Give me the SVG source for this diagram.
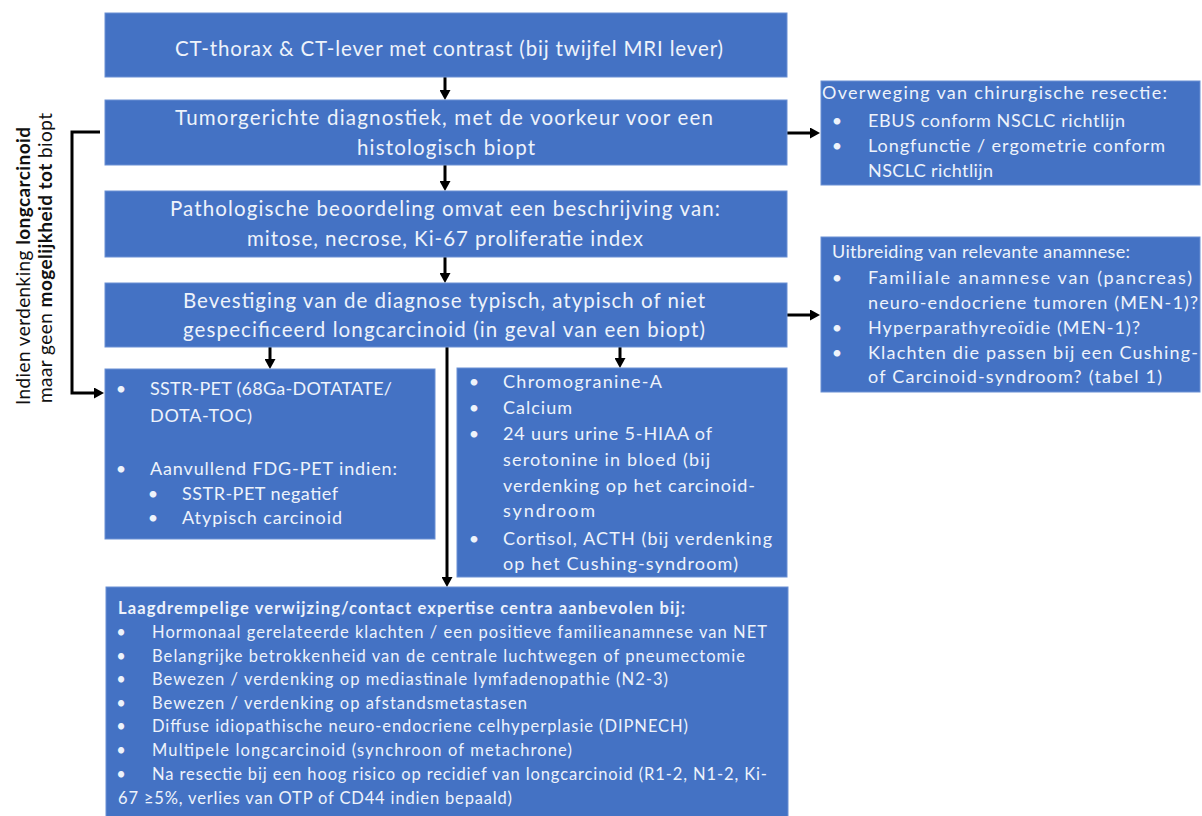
<svg xmlns="http://www.w3.org/2000/svg" width="1202" height="816" viewBox="0 0 1202 816">
<style>
.box{fill:#4472c4;stroke:#6a90d4;stroke-width:1}
.t{font-family:Lato,"Liberation Sans",sans-serif;fill:#eef3fb}
.m{font-size:20.5px}
.s{font-size:18px}
.b{font-size:16.5px}
.bu{text-anchor:middle}
.hd{font-weight:bold}
.side{font-family:Lato,"Liberation Sans",sans-serif;font-size:19px;fill:#111}
.conn{stroke:#000;stroke-width:3;fill:none}
</style>
<defs>
<marker id="ah" markerUnits="userSpaceOnUse" markerWidth="11" markerHeight="11" refX="2" refY="5.5" orient="auto">
<path d="M0,0 L10,5.5 L0,11 z" fill="#000"/>
</marker>
</defs>

<g id="connectors">
<line class="conn" x1="445" y1="77" x2="445" y2="92" marker-end="url(#ah)"/>
<line class="conn" x1="445" y1="165" x2="445" y2="183" marker-end="url(#ah)"/>
<line class="conn" x1="445" y1="257" x2="445" y2="275" marker-end="url(#ah)"/>
<line class="conn" x1="787" y1="133" x2="812" y2="133" marker-end="url(#ah)"/>
<line class="conn" x1="787" y1="315" x2="812" y2="315" marker-end="url(#ah)"/>
<line class="conn" x1="270" y1="347" x2="270" y2="361" marker-end="url(#ah)"/>
<line class="conn" x1="620" y1="347" x2="620" y2="360" marker-end="url(#ah)"/>
<line class="conn" x1="447" y1="347" x2="447" y2="579" marker-end="url(#ah)"/>
<path class="conn" d="M100,132 H72 V393 H96" marker-end="url(#ah)"/>
</g>

<g id="side-label">
<text class="side" transform="rotate(-90)" x="-405" y="30" textLength="278" lengthAdjust="spacing">Indien verdenking <tspan font-weight="bold">longcarcinoid</tspan></text>
<text class="side" transform="rotate(-90)" x="-403" y="52" textLength="290" lengthAdjust="spacing">maar geen <tspan font-weight="bold">mogelijkheid tot</tspan> biopt</text>
</g>

<g id="n-ct">
<rect class="box" x="105" y="13" width="682" height="64"/>
<text class="t m" x="175" y="56" textLength="548" lengthAdjust="spacing">CT-thorax &amp; CT-lever met contrast (bij twijfel MRI lever)</text>
</g>

<g id="n-tumor">
<rect class="box" x="105" y="100" width="682" height="65"/>
<text class="t m" x="175" y="125" textLength="538" lengthAdjust="spacing">Tumorgerichte diagnostiek, met de voorkeur voor een</text>
<text class="t m" x="357" y="155" textLength="178" lengthAdjust="spacing">histologisch biopt</text>
</g>

<g id="n-patho">
<rect class="box" x="105" y="191" width="682" height="66"/>
<text class="t m" x="170" y="216" textLength="550" lengthAdjust="spacing">Pathologische beoordeling omvat een beschrijving van:</text>
<text class="t m" x="247" y="246" textLength="396" lengthAdjust="spacing">mitose, necrose, Ki-67 proliferatie index</text>
</g>

<g id="n-bevestiging">
<rect class="box" x="105" y="283" width="682" height="64"/>
<text class="t m" x="183" y="308" textLength="522" lengthAdjust="spacing">Bevestiging van de diagnose typisch, atypisch of niet</text>
<text class="t m" x="183" y="337" textLength="522" lengthAdjust="spacing">gespecificeerd longcarcinoid (in geval van een biopt)</text>
</g>

<g id="n-resectie">
<rect class="box" x="821" y="81" width="379" height="104"/>
<text class="t s" x="822" y="99" textLength="345" lengthAdjust="spacing">Overweging van chirurgische resectie:</text>
<text class="t s bu" x="837" y="127">•</text>
<text class="t s" x="868" y="127" textLength="257" lengthAdjust="spacing">EBUS conform NSCLC richtlijn</text>
<text class="t s bu" x="837" y="152">•</text>
<text class="t s" x="868" y="152" textLength="297" lengthAdjust="spacing">Longfunctie / ergometrie conform</text>
<text class="t s" x="868" y="177" textLength="125" lengthAdjust="spacing">NSCLC richtlijn</text>
</g>

<g id="n-anamnese">
<rect class="box" x="821" y="237" width="379" height="155"/>
<text class="t s" x="832" y="258" textLength="298" lengthAdjust="spacing">Uitbreiding van relevante anamnese:</text>
<text class="t s bu" x="837" y="284">•</text>
<text class="t s" x="868" y="284" textLength="324" lengthAdjust="spacing">Familiale anamnese van (pancreas)</text>
<text class="t s" x="868" y="309" textLength="330" lengthAdjust="spacing">neuro-endocriene tumoren (MEN-1)?</text>
<text class="t s bu" x="837" y="334">•</text>
<text class="t s" x="868" y="334" textLength="272" lengthAdjust="spacing">Hyperparathyreoïdie (MEN-1)?</text>
<text class="t s bu" x="837" y="359">•</text>
<text class="t s" x="868" y="359" textLength="330" lengthAdjust="spacing">Klachten die passen bij een Cushing-</text>
<text class="t s" x="868" y="383" textLength="294" lengthAdjust="spacing">of Carcinoid-syndroom? (tabel 1)</text>
</g>

<g id="n-pet">
<rect class="box" x="105" y="369" width="330" height="170"/>
<text class="t s bu" x="121" y="395">•</text>
<text class="t s" x="150" y="395" textLength="242" lengthAdjust="spacing">SSTR-PET (68Ga-DOTATATE/</text>
<text class="t s" x="150" y="422" textLength="102" lengthAdjust="spacing">DOTA-TOC)</text>
<text class="t s bu" x="121" y="475">•</text>
<text class="t s" x="150" y="475" textLength="247" lengthAdjust="spacing">Aanvullend FDG-PET indien:</text>
<text class="t s bu" x="153" y="500">•</text>
<text class="t s" x="182" y="500" textLength="156" lengthAdjust="spacing">SSTR-PET negatief</text>
<text class="t s bu" x="153" y="524">•</text>
<text class="t s" x="182" y="524" textLength="160" lengthAdjust="spacing">Atypisch carcinoid</text>
</g>

<g id="n-lab">
<rect class="box" x="457" y="368" width="330" height="209"/>
<text class="t s bu" x="474" y="388">•</text>
<text class="t s" x="503" y="388" textLength="159" lengthAdjust="spacing">Chromogranine-A</text>
<text class="t s bu" x="474" y="414">•</text>
<text class="t s" x="503" y="414" textLength="69" lengthAdjust="spacing">Calcium</text>
<text class="t s bu" x="474" y="440">•</text>
<text class="t s" x="503" y="440" textLength="209" lengthAdjust="spacing">24 uurs urine 5-HIAA of</text>
<text class="t s" x="503" y="466" textLength="207" lengthAdjust="spacing">serotonine in bloed (bij</text>
<text class="t s" x="503" y="492" textLength="252" lengthAdjust="spacing">verdenking op het carcinoid-</text>
<text class="t s" x="503" y="517" textLength="92" lengthAdjust="spacing">syndroom</text>
<text class="t s bu" x="474" y="545">•</text>
<text class="t s" x="503" y="545" textLength="269" lengthAdjust="spacing">Cortisol, ACTH  (bij verdenking</text>
<text class="t s" x="503" y="570" textLength="235" lengthAdjust="spacing">op het Cushing-syndroom)</text>
</g>

<g id="n-expertise">
<rect class="box" x="106" y="587" width="682" height="230"/>
<text class="t b hd" x="118" y="614" textLength="567" lengthAdjust="spacing">Laagdrempelige verwijzing/contact expertise centra aanbevolen bij:</text>
<text class="t b bu" x="121" y="638">•</text>
<text class="t b" x="152" y="638" textLength="615" lengthAdjust="spacing">Hormonaal gerelateerde klachten / een positieve familieanamnese van NET</text>
<text class="t b bu" x="121" y="662">•</text>
<text class="t b" x="152" y="662" textLength="593" lengthAdjust="spacing">Belangrijke betrokkenheid van de centrale luchtwegen of pneumectomie</text>
<text class="t b bu" x="121" y="685">•</text>
<text class="t b" x="152" y="685" textLength="516" lengthAdjust="spacing">Bewezen / verdenking op mediastinale lymfadenopathie (N2-3)</text>
<text class="t b bu" x="121" y="709">•</text>
<text class="t b" x="152" y="709" textLength="375" lengthAdjust="spacing">Bewezen / verdenking op afstandsmetastasen</text>
<text class="t b bu" x="121" y="732">•</text>
<text class="t b" x="152" y="732" textLength="536" lengthAdjust="spacing">Diffuse idiopathische neuro-endocriene celhyperplasie (DIPNECH)</text>
<text class="t b bu" x="121" y="756">•</text>
<text class="t b" x="152" y="756" textLength="420" lengthAdjust="spacing">Multipele longcarcinoid (synchroon of metachrone)</text>
<text class="t b bu" x="121" y="780">•</text>
<text class="t b" x="152" y="780" textLength="615" lengthAdjust="spacing">Na resectie bij een hoog risico op recidief van longcarcinoid (R1-2, N1-2, Ki-</text>
<text class="t b" x="118" y="804" textLength="394" lengthAdjust="spacing">67 ≥5%, verlies van OTP of CD44 indien bepaald)</text>
</g>
</svg>
